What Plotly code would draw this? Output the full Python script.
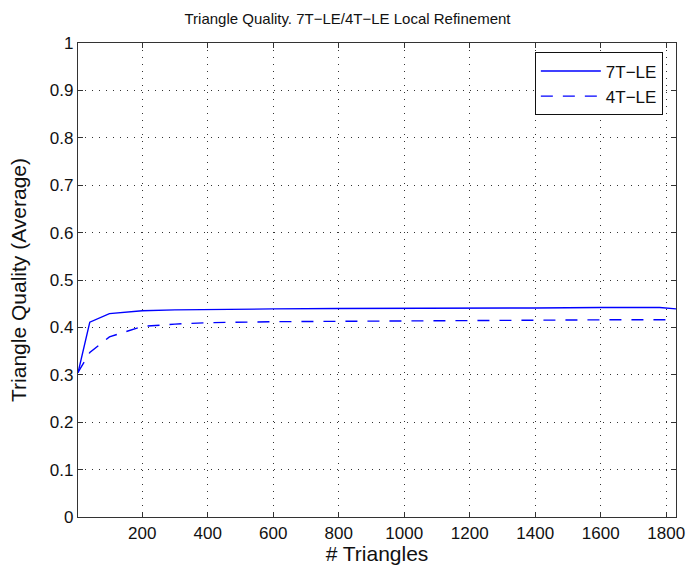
import plotly.graph_objects as go

x_vals = [4, 40, 100, 200, 300, 400, 600, 800, 1000, 1200, 1400, 1600, 1780, 1830]
q_7t = [0.304, 0.411, 0.429, 0.435, 0.437, 0.438, 0.439, 0.440, 0.440, 0.441, 0.441, 0.442, 0.442, 0.439]
x_4t = [4, 40, 100, 200, 300, 400, 600, 800, 1000, 1200, 1400, 1600, 1800]
q_4t = [0.305, 0.347, 0.380, 0.402, 0.407, 0.410, 0.412, 0.413, 0.414, 0.414, 0.415, 0.416, 0.416]

font = "Liberation Sans, Arial, Helvetica, sans-serif"

fig = go.Figure()
fig.add_trace(go.Scatter(x=x_vals, y=q_7t, mode="lines", name="7T\u2212LE",
                         line=dict(color="#0000ff", width=1.4)))
fig.add_trace(go.Scatter(x=x_4t, y=q_4t, mode="lines", name="4T\u2212LE",
                         line=dict(color="#0000ff", width=1.4, dash="12px,10px")))

axis_common = dict(
    showline=True, linecolor="#333333", linewidth=1.2, mirror="ticks",
    ticks="inside", ticklen=5, tickcolor="#333333",
    showgrid=True, gridcolor="#333333", gridwidth=1, griddash="1px,6px",
    zeroline=False, tickfont=dict(family=font, size=17, color="#111111"),
)

fig.update_layout(
    width=695, height=571,
    margin=dict(l=78, r=10, t=43, b=54),
    paper_bgcolor="white", plot_bgcolor="white",
    title=dict(text="Triangle Quality. 7T\u2212LE/4T\u2212LE Local Refinement",
               x=0.5, xanchor="center", y=0.968, yanchor="middle",
               font=dict(family=font, size=15, color="#111111")),
    xaxis=dict(range=[4, 1830], tickvals=[200, 400, 600, 800, 1000, 1200, 1400, 1600, 1800],
               title=dict(text="# Triangles", font=dict(family=font, size=21, color="#111111"), standoff=4),
               **axis_common),
    yaxis=dict(range=[0, 1], dtick=0.1, tick0=0,
               title=dict(text="Triangle Quality (Average)", font=dict(family=font, size=21, color="#111111"), standoff=17),
               **axis_common),
    legend=dict(x=0.978, y=0.98, xanchor="right", yanchor="top",
                bordercolor="#111111", borderwidth=1, bgcolor="white",
                font=dict(family=font, size=17, color="#111111"),
                itemwidth=60, tracegroupgap=0),
    showlegend=True,
)

fig.write_html("out.html")
